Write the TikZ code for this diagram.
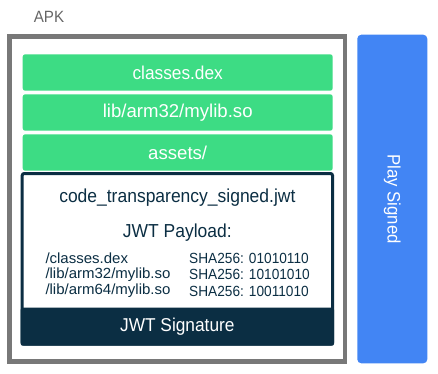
\documentclass[tikz,border=0pt]{standalone}
\usepackage{fontspec}
\setmainfont{Liberation Sans}[FakeStretch=0.93]
\newfontfamily\widesans{Liberation Sans}[FakeStretch=1.0]
\newfontfamily\filesans{Liberation Sans}[FakeStretch=1.02]
\definecolor{apkgray}{HTML}{787878}
\definecolor{apktext}{HTML}{666666}
\definecolor{andgreen}{HTML}{3DDC84}
\definecolor{playblue}{HTML}{4285F4}
\definecolor{jwtdark}{HTML}{0B2E43}
\tikzset{
  filebox/.style={fill=andgreen, draw=none, rounded corners=2.5pt, minimum width=310pt, minimum height=36.4pt, inner sep=0pt, text=white, font=\fontsize{18.6}{20}\selectfont},
  rowtext/.style={anchor=west, inner sep=0pt, text=jwtdark, font=\fontsize{14.7}{16}\selectfont},
}
\begin{document}
\begin{tikzpicture}[x=1pt,y=-1pt]
\useasboundingbox (0,0) rectangle (438,373);
% APK frame
\node[draw=apkgray, line width=4.5pt, fill=white, minimum width=335.5pt, minimum height=325pt, inner sep=0pt] (apk) at (177.25,199) {};
\node[text=apktext, font=\fontsize{16.3}{18}\selectfont, inner sep=0pt] (apklabel) at (49,16.5) {APK};
% files
\node[filebox] (dex) at (177.7,72.5) {classes.dex};
\node[filebox] (lib) at (177.7,112.5) {\widesans lib/arm32/mylib.so};
\node[filebox] (assets) at (177.7,152.5) {\widesans assets/};
% JWT
\node[fill=white, draw=none, minimum width=313.3pt, minimum height=173.7pt, inner sep=0pt] (jwtbg) at (177.35,258.85) {};
\node[fill=jwtdark, rounded corners=2pt, minimum width=313.3pt, minimum height=38pt, inner sep=0pt, text=white, font=\fontsize{18.6}{20}\selectfont] (sig) at (177.35,326.7) {JWT Signature};
\node[draw=jwtdark, line width=3pt, rounded corners=2pt, minimum width=310.3pt, minimum height=170.7pt, inner sep=0pt] (jwt) at (177.35,258.85) {};
\node[text=jwtdark, font=\fontsize{18.8}{20}\selectfont, inner sep=0pt] (jwtname) at (177.35,198) {code\_transparency\_signed.jwt};
\node[text=jwtdark, font=\fontsize{18.8}{20}\selectfont, inner sep=0pt] (payload) at (177.35,233) {JWT Payload:};
\node[rowtext] (f1) at (45.3,258) {\filesans /classes.dex};
\node[rowtext] (f2) at (45.3,274.5) {\filesans /lib/arm32/mylib.so};
\node[rowtext] (f3) at (45.3,291) {\filesans /lib/arm64/mylib.so};
\node[rowtext] (h1) at (189,258) {SHA256: 01010110};
\node[rowtext] (h2) at (189,274.5) {SHA256: 10101010};
\node[rowtext] (h3) at (189,291) {SHA256: 10011010};
% Play signed
\node[fill=playblue, rounded corners=4pt, minimum width=70pt, minimum height=328.6pt, inner sep=0pt] (play) at (392.3,199) {};
\node[rotate=-90, text=white, font=\fontsize{18}{20}\selectfont, inner sep=0pt] (playlabel) at (play.center) {Play Signed};
\end{tikzpicture}
\end{document}
